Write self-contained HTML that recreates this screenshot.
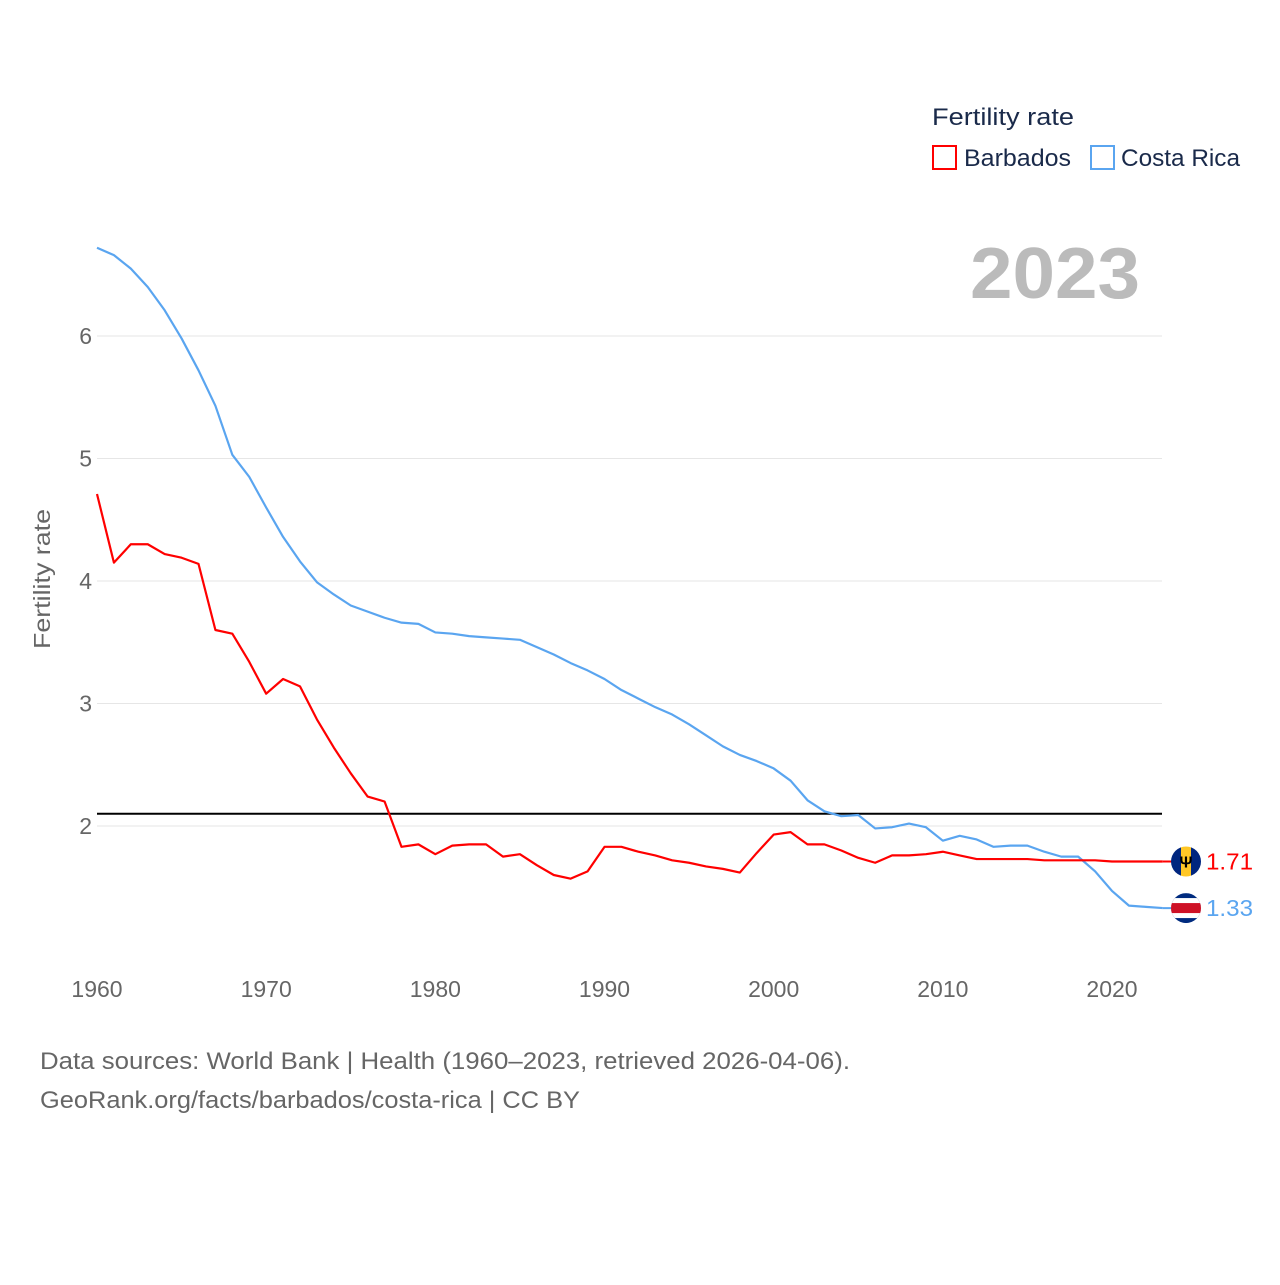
<!DOCTYPE html>
<html><head><meta charset="utf-8"><style>
body{margin:0;background:#fff;font-family:"Liberation Sans",sans-serif}
svg text{font-family:"Liberation Sans",sans-serif}
</style></head><body>
<svg id="chart" width="1280" height="1280" xmlns="http://www.w3.org/2000/svg">
<g id="grid"></g>
<g id="axes"></g>
<text transform="translate(50,579) rotate(-90)" text-anchor="middle" font-size="23" fill="#666" textLength="140" lengthAdjust="spacingAndGlyphs">Fertility rate</text>
<text x="970" y="298" font-size="72" font-weight="bold" fill="#bbb" textLength="170" lengthAdjust="spacingAndGlyphs">2023</text>
<g>
<text x="932" y="125" font-size="24" fill="#1a2a4a" textLength="142" lengthAdjust="spacingAndGlyphs">Fertility rate</text>
<rect x="933" y="146" width="23" height="23" fill="none" stroke="#f00" stroke-width="2"/>
<text x="964" y="166" font-size="24" fill="#1a2a4a" textLength="107" lengthAdjust="spacingAndGlyphs">Barbados</text>
<rect x="1091" y="146" width="23" height="23" fill="none" stroke="#5aa5f0" stroke-width="2"/>
<text x="1121" y="166" font-size="24" fill="#1a2a4a" textLength="119" lengthAdjust="spacingAndGlyphs">Costa Rica</text>
</g>
<g id="series"></g>
<g id="ends"></g>
<text x="40" y="1069" font-size="24" fill="#666" textLength="810" lengthAdjust="spacingAndGlyphs">Data sources: World Bank | Health (1960–2023, retrieved 2026-04-06).</text>
<text x="40" y="1108" font-size="24" fill="#666" textLength="540" lengthAdjust="spacingAndGlyphs">GeoRank.org/facts/barbados/costa-rica | CC BY</text>
</svg>
<script>
const years=[];for(let y=1960;y<=2023;y++)years.push(y);
const barbados=[4.71,4.15,4.30,4.30,4.22,4.19,4.14,3.60,3.57,3.34,3.08,3.20,3.14,2.87,2.64,2.43,2.24,2.20,1.83,1.85,1.77,1.84,1.85,1.85,1.75,1.77,1.68,1.60,1.57,1.63,1.83,1.83,1.79,1.76,1.72,1.70,1.67,1.65,1.62,1.78,1.93,1.95,1.85,1.85,1.80,1.74,1.70,1.76,1.76,1.77,1.79,1.76,1.73,1.73,1.73,1.73,1.72,1.72,1.72,1.72,1.71,1.71,1.71,1.71];
const costaRica=[6.72,6.66,6.55,6.40,6.21,5.98,5.72,5.43,5.03,4.85,4.60,4.36,4.16,3.99,3.89,3.80,3.75,3.70,3.66,3.65,3.58,3.57,3.55,3.54,3.53,3.52,3.46,3.40,3.33,3.27,3.20,3.11,3.04,2.97,2.91,2.83,2.74,2.65,2.58,2.53,2.47,2.37,2.21,2.12,2.08,2.09,1.98,1.99,2.02,1.99,1.88,1.92,1.89,1.83,1.84,1.84,1.79,1.75,1.75,1.63,1.47,1.35,1.34,1.33];
const yTicks=[2,3,4,5,6];
const xTicks=[1960,1970,1980,1990,2000,2010,2020];
const refValue=2.1;
const NS="http://www.w3.org/2000/svg";
const X=y=>97+(y-1960)*(1112-97)/60;
const Y=v=>826-(v-2)*122.5;
function mk(t,a,p){const e=document.createElementNS(NS,t);for(const k in a)e.setAttribute(k,a[k]);p.appendChild(e);return e;}
const grid=document.getElementById('grid'),axes=document.getElementById('axes'),series=document.getElementById('series'),ends=document.getElementById('ends');
yTicks.forEach(v=>{
 const l=mk('line',{x1:97,x2:1162,y1:Y(v),y2:Y(v),stroke:'#e6e6e6','stroke-width':1},grid);
 
 
 const t=mk('text',{x:92,y:Y(v)+8,'text-anchor':'end','font-size':23,fill:'#666'},axes);
 t.textContent=v;
 
 
});
xTicks.forEach(v=>{
 const t=mk('text',{x:X(v),y:997,'text-anchor':'middle','font-size':23,fill:'#666'},axes);
 t.textContent=v;
 
 
});
const ref=mk('line',{x1:97,x2:1162,y1:Y(refValue),y2:Y(refValue),stroke:'#000','stroke-width':2},series);


function line(d,c,n){
 const p=mk('polyline',{points:d.map((v,i)=>X(years[i])+','+Y(v)).join(' '),fill:'none',stroke:c,'stroke-width':2.2,'stroke-linejoin':'round'},series);
 
 
}
line(costaRica,'#5aa5f0','costa-rica-line');
line(barbados,'#f00','barbados-line');
function endLabel(d,c,n,flag){
 const v=d[d.length-1],y=Y(v),x=X(years[years.length-1]);
 const cx=1186;
 const g=mk('g',{},ends);
 
 
 mk('line',{x1:x,x2:cx,y1:y,y2:y,stroke:c,'stroke-width':2},g);
 const cp=mk('clipPath',{id:'cp'+n},g);mk('circle',{cx:cx,cy:y,r:15},cp);
 const f=mk('g',{'clip-path':'url(#cp'+n+')'},g);
 
 
 if(flag==='bb'){
  mk('rect',{x:cx-15,y:y-15,width:10,height:30,fill:'#00267f'},f);
  mk('rect',{x:cx-5,y:y-15,width:10,height:30,fill:'#ffc726'},f);
  mk('rect',{x:cx+5,y:y-15,width:10,height:30,fill:'#00267f'},f);
  const t=mk('text',{x:cx,y:y+6,'text-anchor':'middle','font-size':16,'font-weight':'bold',fill:'#000'},f);t.textContent='Ψ';
 }else{
  mk('rect',{x:cx-15,y:y-15,width:30,height:30,fill:'#002b7f'},f);
  mk('rect',{x:cx-15,y:y-10,width:30,height:20,fill:'#fff'},f);
  mk('rect',{x:cx-15,y:y-5,width:30,height:10,fill:'#ce1126'},f);
 }
 const t=mk('text',{x:1206,y:y+8,'font-size':23,fill:c,textLength:47,lengthAdjust:'spacingAndGlyphs'},g);t.textContent=v.toFixed(2);
}
endLabel(barbados,'#f00','barbados','bb');
endLabel(costaRica,'#5aa5f0','costa-rica','cr');
</script>
</body></html>
